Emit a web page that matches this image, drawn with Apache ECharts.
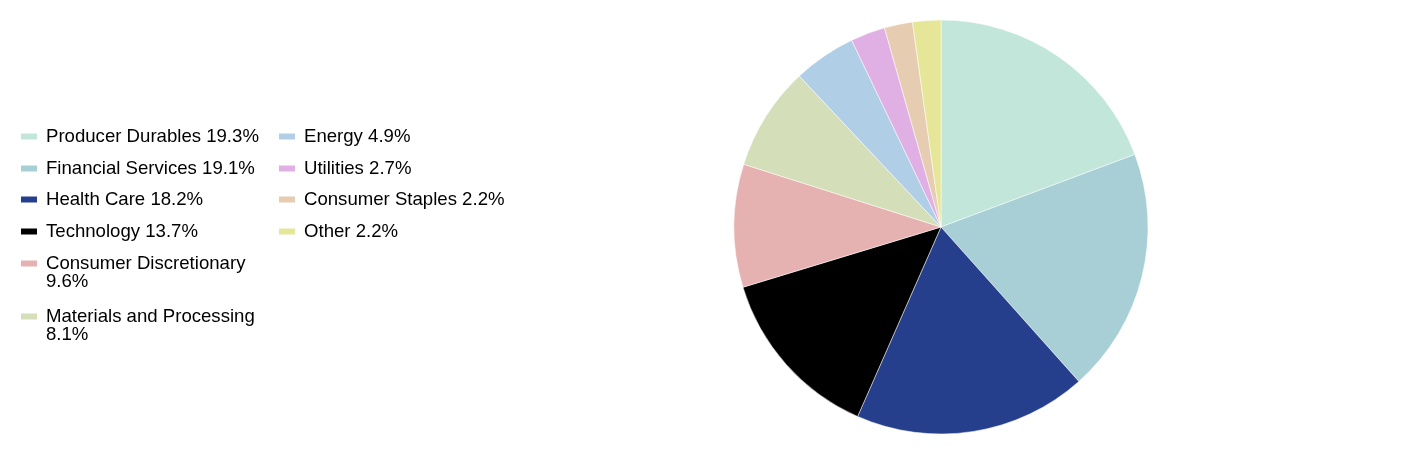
<!DOCTYPE html>
<html>
<head>
<meta charset="utf-8">
<script src="https://cdn.jsdelivr.net/npm/echarts@6/dist/echarts.min.js"></script>
<style>
  html, body { margin: 0; padding: 0; background: #fff; }
  #main { width: 1412px; height: 464px; }
</style>
</head>
<body>
<div id="main"></div>
<script>
var sectors = ['Producer Durables', 'Financial Services', 'Health Care', 'Technology',
    'Consumer Discretionary', 'Materials and Processing', 'Energy', 'Utilities',
    'Consumer Staples', 'Other'];
var weights = [19.3, 19.1, 18.2, 13.7, 9.6, 8.1, 4.9, 2.7, 2.2, 2.2];
var colors = ['#c3e6da', '#a7cfd5', '#253f8c', '#000000', '#e5b2b1',
    '#d4deb8', '#b0cee6', '#e0b0e5', '#e6cdb1', '#e6e698'];
// names that break onto a second line in the legend
var wrapped = ['Consumer Discretionary', 'Materials and Processing'];

// legend placement: [left, centre of first text line] per sector
var legendSpots = [
    [21, 135], [21, 167], [21, 198], [21, 230], [21, 262], [21, 315],
    [279, 135], [279, 167], [279, 198], [279, 230]
];

// icon: 16x6 bar inside a wider box so the text sits 10px off it
var iconOne = 'path://M0,0 M0,6 H16 V12 H0 Z M20,18';
var iconTwo = 'path://M0,0 M0,6 H16 V12 H0 Z M20,36';

var pieData = sectors.map(function (s, i) {
    return { name: s, value: weights[i], itemStyle: { color: colors[i] } };
});

function label(name) {
    var v = weights[sectors.indexOf(name)].toFixed(1) + '%';
    return wrapped.indexOf(name) >= 0 ? name + '\n' + v : name + ' ' + v;
}

var legends = sectors.map(function (s, i) {
    var tall = wrapped.indexOf(s) >= 0;
    return {
        orient: 'vertical',
        left: legendSpots[i][0],
        top: legendSpots[i][1] - 8,
        padding: 0,
        itemWidth: 20,
        itemHeight: tall ? 36 : 18,
        icon: tall ? iconTwo : iconOne,
        itemStyle: { borderWidth: 0 },
        selectedMode: false,
        data: [s],
        formatter: label,
        textStyle: {
            fontFamily: 'Liberation Sans, Arial, sans-serif',
            fontSize: 18.6,
            lineHeight: 18,
            color: '#000',
            padding: 0
        }
    };
});

var myChart = echarts.init(document.getElementById('main'));
var option = {
    animation: false,
    legend: legends,
    series: [{
        type: 'pie',
        center: [941, 227],
        radius: 207,
        startAngle: 90,
        clockwise: true,
        label: { show: false },
        labelLine: { show: false },
        emphasis: { disabled: true },
        itemStyle: { borderColor: '#fff', borderWidth: 0.5 },
        data: pieData
    }]
};
myChart.setOption(option);
</script>
</body>
</html>
